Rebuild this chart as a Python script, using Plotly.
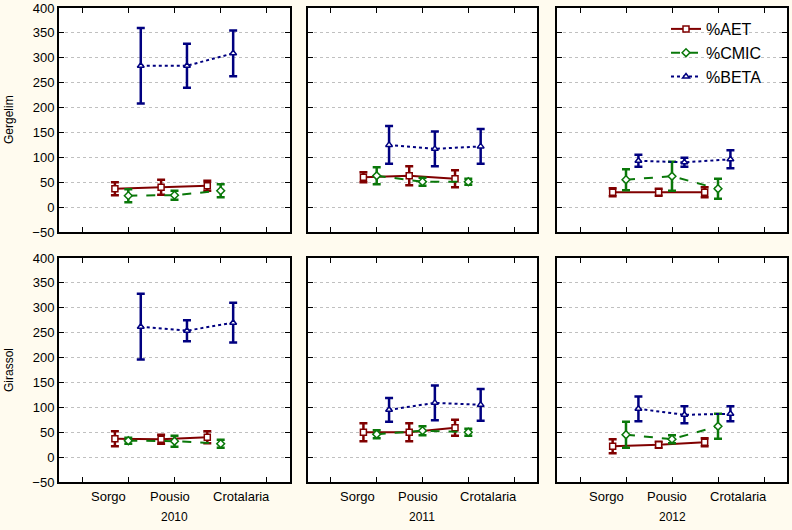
import plotly.graph_objects as go

categories = ["Sorgo", "Pousio", "Crotalaria"]
years = ["2010", "2011", "2012"]
crops = ["Gergelim", "Girassol"]
series_names = ["%AET", "%CMIC", "%BETA"]

# values[crop][year] -> mean per category; err -> half-width of bar
aet_mean = {
    "Gergelim": {"2010": [37, 40, 43], "2011": [60, 63, 57], "2012": [30, 30, 30]},
    "Girassol": {"2010": [37, 36, 40], "2011": [50, 50, 59], "2012": [22, 25, 30]},
}
aet_err = {
    "Gergelim": {"2010": [13, 15, 10], "2011": [10, 19, 17], "2012": [8, 7, 10]},
    "Girassol": {"2010": [15, 9, 12], "2011": [18, 18, 16], "2012": [14, 6, 8]},
}
cmic_mean = {
    "Gergelim": {"2010": [23, 24, 33], "2011": [63, 51, 51], "2012": [55, 62, 37]},
    "Girassol": {"2010": [33, 32, 27], "2011": [46, 53, 50], "2012": [45, 36, 62]},
}
cmic_err = {
    "Gergelim": {"2010": [13, 9, 13], "2011": [17, 8, 6], "2012": [21, 29, 20]},
    "Girassol": {"2010": [6, 11, 8], "2011": [8, 9, 7], "2012": [26, 8, 25]},
}
beta_mean = {
    "Gergelim": {"2010": [284, 284, 309], "2011": [125, 117, 122], "2012": [93, 90, 96]},
    "Girassol": {"2010": [262, 254, 270], "2011": [95, 109, 105], "2012": [97, 85, 87]},
}
beta_err = {
    "Gergelim": {"2010": [76, 44, 46], "2011": [38, 35, 35], "2012": [12, 9, 18]},
    "Girassol": {"2010": [66, 21, 40], "2011": [24, 35, 32], "2012": [25, 17, 15]},
}

colors = ["#800000", "#0a780a", "#000080"]
symbols = ["square", "diamond", "triangle-up"]
dashes = ["solid", "dash", "dot"]
offsets = [-0.29, 0.0, 0.27]
label_shift = [-0.42, -0.1, 0.44]   # category label placement relative to tick
means = [aet_mean, cmic_mean, beta_mean]
errs = [aet_err, cmic_err, beta_err]

W, H = 792, 530
col_px = [(59, 290), (308, 537), (557, 787)]
row_px = [(8, 232), (258, 482)]
BG = "#fffbef"

fig = go.Figure()
layout = {}
font = "Liberation Sans, Arial, sans-serif"
annotations = []

n = 0
for r, crop in enumerate(crops):
    for c, yr in enumerate(years):
        n += 1
        xa = "x" if n == 1 else f"x{n}"
        ya = "y" if n == 1 else f"y{n}"
        for s in range(3):
            xs = [i + 1 + offsets[s] for i in range(len(categories))]
            fig.add_trace(go.Scatter(
                x=xs, y=means[s][crop][yr],
                error_y=dict(type="data", array=errs[s][crop][yr], color=colors[s],
                             thickness=2.5, width=4),
                mode="lines+markers",
                line=dict(color=colors[s], width=2, dash=dashes[s]),
                marker=dict(symbol=symbols[s], size=6, color="white",
                            line=dict(color=colors[s], width=1.5)),
                name=series_names[s], showlegend=(n == 1),
                xaxis=xa, yaxis=ya,
            ))
        x0, x1 = col_px[c]
        y0, y1 = row_px[r]
        layout["xaxis" if n == 1 else f"xaxis{n}"] = dict(
            domain=[x0 / W, x1 / W], anchor=ya, range=[-0.5, 4.5],
            tickvals=[0, 1, 2, 3, 4], showticklabels=False, automargin=False,
            ticks="inside", ticklen=5, tickcolor="black", mirror="ticks",
            showline=True, linecolor="black", linewidth=2, showgrid=False,
            zeroline=False,
        )
        layout["yaxis" if n == 1 else f"yaxis{n}"] = dict(
            domain=[1 - y1 / H, 1 - y0 / H], anchor=xa, range=[-50, 400],
            tickvals=list(range(-50, 401, 50)), automargin=False,
            showticklabels=(c == 0),
            ticks="inside", ticklen=5, tickcolor="black", mirror="ticks",
            showline=True, linecolor="black", linewidth=2,
            showgrid=True, gridcolor="#c0c0c0", griddash="dot", gridwidth=1,
            zeroline=False, tickfont=dict(size=13, color="black", family=font),
        )
        if r == 1:
            for i, cat in enumerate(categories):
                annotations.append(dict(
                    text=cat, x=i + 1 + label_shift[i], xref=xa,
                    y=1 - 496 / H, yref="paper", yanchor="middle", xanchor="center",
                    showarrow=False,
                    font=dict(size=13, color="black", family=font)))

for c, yr in enumerate(years):
    x0, x1 = col_px[c]
    annotations.append(dict(text=yr, x=(x0 + x1) / 2 / W, y=1 - 517 / H,
                            xref="paper", yref="paper", yanchor="middle", xanchor="center",
                            showarrow=False,
                            font=dict(size=12, color="black", family=font)))
for r, crop in enumerate(crops):
    y0, y1 = row_px[r]
    annotations.append(dict(text=crop, x=9 / W, y=1 - (y0 + y1) / 2 / H,
                            xref="paper", yref="paper", xanchor="center", yanchor="middle",
                            showarrow=False, textangle=-90,
                            font=dict(size=12, color="black", family=font)))

fig.update_layout(
    width=W, height=H, margin=dict(l=0, r=0, t=0, b=0, autoexpand=False),
    paper_bgcolor=BG, plot_bgcolor="white",
    showlegend=True,
    legend=dict(x=666 / W, y=1 - 12 / H, xanchor="left", yanchor="top",
                bgcolor="rgba(0,0,0,0)", font=dict(size=16, color="black", family=font),
                itemwidth=30, tracegroupgap=0),
    annotations=annotations,
    **layout,
)

fig.write_html(
    "out.html",
    config={"displayModeBar": False},
    post_script=(
        "document.body.style.margin='0';"
        "document.body.style.overflow='hidden';"
        f"document.body.style.background='{BG}';"
    ),
)
